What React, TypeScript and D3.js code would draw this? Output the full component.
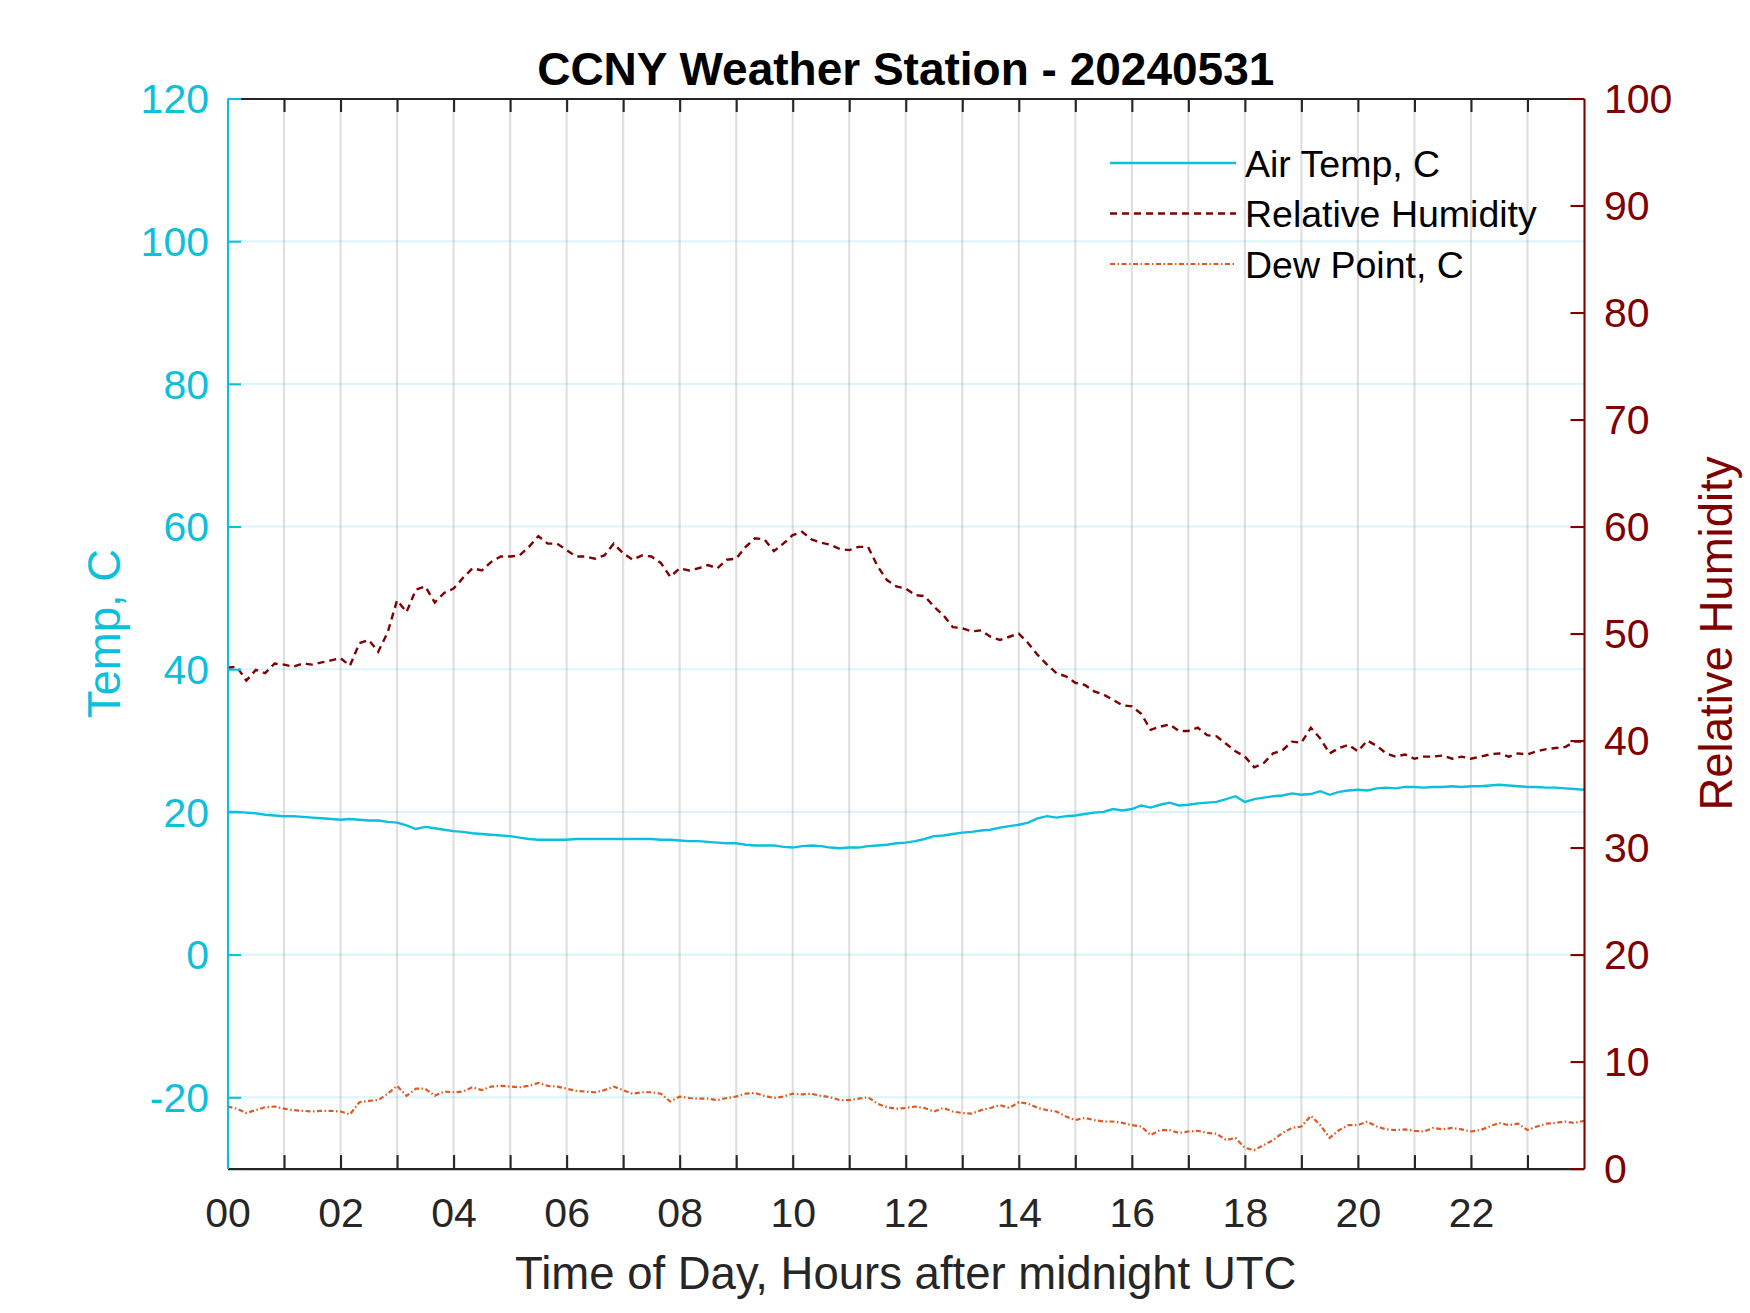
import React, { useRef, useEffect } from 'react';
import * as d3 from 'd3';

// 10-minute samples from 00:00 to 24:00 UTC (145 values each)
const airTemp = [
  20.0, 20.0, 19.9, 19.8, 19.6, 19.5, 19.4, 19.4, 19.3, 19.2, 19.1, 19.0,
  18.9, 19.0, 18.9, 18.8, 18.8, 18.6, 18.5, 18.1, 17.6, 17.9, 17.7, 17.5,
  17.3, 17.2, 17.0, 16.9, 16.8, 16.7, 16.6, 16.4, 16.2, 16.1, 16.1, 16.1,
  16.1, 16.2, 16.2, 16.2, 16.2, 16.2, 16.2, 16.2, 16.2, 16.2, 16.1, 16.1,
  16.0, 15.9, 15.9, 15.8, 15.7, 15.6, 15.6, 15.4, 15.3, 15.3, 15.3, 15.1,
  15.0, 15.2, 15.3, 15.2, 15.0, 14.9, 15.0, 15.0, 15.2, 15.3, 15.4, 15.6,
  15.7, 15.9, 16.2, 16.6, 16.7, 16.9, 17.1, 17.2, 17.4, 17.5, 17.8, 18.0,
  18.2, 18.5, 19.1, 19.4, 19.2, 19.4, 19.5, 19.7, 19.9, 20.0, 20.4, 20.2,
  20.4, 20.9, 20.6, 21.0, 21.3, 20.9, 21.0, 21.2, 21.3, 21.4, 21.8, 22.2,
  21.4, 21.8, 22.0, 22.2, 22.3, 22.6, 22.4, 22.5, 22.9, 22.4, 22.8, 23.0,
  23.1, 23.0, 23.3, 23.4, 23.3, 23.5, 23.5, 23.4, 23.5, 23.5, 23.6, 23.5,
  23.6, 23.6, 23.7, 23.8, 23.7, 23.6, 23.5, 23.5, 23.4, 23.4, 23.3, 23.2,
  23.1,
];

const relHumidity = [
  46.8, 46.9, 45.6, 46.6, 46.3, 47.2, 47.1, 46.9, 47.2, 47.1, 47.3, 47.5,
  47.7, 47.0, 49.1, 49.4, 48.3, 50.1, 53.1, 52.0, 54.1, 54.4, 52.9, 53.8,
  54.2, 55.2, 56.1, 55.9, 56.7, 57.2, 57.2, 57.3, 58.1, 59.1, 58.4, 58.4,
  57.8, 57.2, 57.2, 57.0, 57.3, 58.4, 57.5, 56.9, 57.3, 57.2, 56.6, 55.3,
  56.1, 55.9, 56.1, 56.4, 56.1, 56.9, 57.0, 58.1, 58.9, 58.8, 57.7, 58.4,
  59.2, 59.5, 58.8, 58.5, 58.3, 57.9, 57.8, 58.1, 58.1, 56.3, 55.0, 54.4,
  54.2, 53.6, 53.5, 52.5, 51.7, 50.6, 50.5, 50.2, 50.3, 49.7, 49.4, 49.7,
  50.0, 49.1, 48.0, 47.1, 46.3, 46.0, 45.4, 45.2, 44.6, 44.3, 43.8, 43.3,
  43.2, 42.5, 41.0, 41.3, 41.5, 40.9, 40.9, 41.2, 40.5, 40.4, 39.7, 39.0,
  38.5, 37.5, 37.9, 38.8, 39.1, 39.9, 39.8, 41.2, 40.2, 38.8, 39.3, 39.6,
  39.0, 40.0, 39.5, 38.8, 38.5, 38.7, 38.3, 38.5, 38.5, 38.6, 38.3, 38.5,
  38.3, 38.5, 38.7, 38.8, 38.5, 38.8, 38.7, 39.0, 39.2, 39.3, 39.4, 39.9,
  39.9,
];

const dewPoint = [
  -21.3, -21.6, -22.2, -21.8, -21.4, -21.3, -21.6, -21.8, -21.9, -22.0, -21.9, -21.9,
  -22.0, -22.4, -20.7, -20.5, -20.4, -19.5, -18.4, -19.8, -18.8, -18.8, -19.8, -19.2,
  -19.3, -19.2, -18.6, -19.0, -18.5, -18.4, -18.5, -18.6, -18.4, -18.0, -18.4, -18.5,
  -18.8, -19.1, -19.2, -19.3, -19.0, -18.5, -19.0, -19.5, -19.3, -19.3, -19.5, -20.6,
  -19.9, -20.1, -20.2, -20.2, -20.4, -20.1, -19.9, -19.5, -19.4, -19.8, -20.1, -19.9,
  -19.5, -19.6, -19.5, -19.8, -20.0, -20.4, -20.4, -20.2, -20.0, -20.9, -21.4, -21.6,
  -21.5, -21.3, -21.5, -22.0, -21.5, -22.0, -22.2, -22.3, -21.8, -21.5, -21.1, -21.5,
  -20.7, -20.9, -21.5, -21.8, -22.0, -22.7, -23.2, -22.9, -23.2, -23.4, -23.4, -23.6,
  -23.9, -24.1, -25.3, -24.6, -24.6, -25.0, -24.8, -24.7, -25.0, -25.1, -26.0, -25.7,
  -27.1, -27.4, -26.7, -26.0, -25.0, -24.3, -24.1, -22.6, -23.9, -25.7, -24.6, -23.9,
  -23.9, -23.4, -24.1, -24.5, -24.6, -24.5, -24.7, -24.8, -24.3, -24.5, -24.3, -24.5,
  -24.8, -24.6, -24.1, -23.6, -23.9, -23.7, -24.6, -24.1, -23.7, -23.6, -23.4, -23.6,
  -23.3,
];

const hourTicks = [
  1, 2, 3, 4, 5, 6, 7, 8, 9, 10, 11, 12, 13, 14, 15, 16, 17, 18, 19, 20, 21, 22, 23,
];
const hourLabels = ['00', '02', '04', '06', '08', '10', '12', '14', '16', '18', '20', '22'];
const tempTicks = [-20, 0, 20, 40, 60, 80, 100, 120];
const rhTicks = [0, 10, 20, 30, 40, 50, 60, 70, 80, 90, 100];

const legendItems = ['Air Temp, C', 'Relative Humidity', 'Dew Point, C'];

const CYAN = '#0DBFDC';
const DARK_RED = '#800000';
const ORANGE = '#DF5A22';
const INK = '#262626';
const FONT = '"Liberation Sans", Arial, Helvetica, sans-serif';

const WeatherChart: React.FC = () => {
  const ref = useRef<SVGSVGElement | null>(null);

  useEffect(() => {
    const width = 1750;
    const height = 1313;
    const left = 227.5, right = 1584, top = 98.5, bottom = 1168.6;
    const tick = 13.5;

    const svg = d3.select(ref.current);
    svg.selectAll('*').remove();
    svg.attr('width', width).attr('height', height);

    svg.append('rect').attr('width', width).attr('height', height).attr('fill', 'white');

    const x = d3.scaleLinear().domain([0, 24]).range([left, right]);
    const yT = d3.scaleLinear().domain([-30, 120]).range([bottom, top]);
    const yRH = d3.scaleLinear().domain([0, 100]).range([bottom, top]);

    const hours = airTemp.map((_, i) => i / 6);

    // grid: grey verticals every hour, faint cyan horizontals on the temp ticks
    const grid = svg.append('g');
    grid.append('g').selectAll('line')
      .data(hourTicks)
      .join('line')
      .attr('x1', (d) => x(d)).attr('x2', (d) => x(d))
      .attr('y1', top).attr('y2', bottom)
      .attr('stroke', INK).attr('stroke-opacity', 0.15).attr('stroke-width', 2.1);
    grid.append('g').selectAll('line')
      .data(tempTicks.filter((t) => t < 120))
      .join('line')
      .attr('x1', left).attr('x2', right)
      .attr('y1', (d) => yT(d)).attr('y2', (d) => yT(d))
      .attr('stroke', CYAN).attr('stroke-opacity', 0.15).attr('stroke-width', 2.1);

    // series
    const lineT = d3.line<number>().x((_, i) => x(hours[i])).y((d) => yT(d));
    const lineRH = d3.line<number>().x((_, i) => x(hours[i])).y((d) => yRH(d));

    svg.append('path').attr('d', lineT(airTemp)!)
      .attr('fill', 'none').attr('stroke', CYAN).attr('stroke-width', 2.4);
    svg.append('path').attr('d', lineRH(relHumidity)!)
      .attr('fill', 'none').attr('stroke', DARK_RED).attr('stroke-width', 2.4)
      .attr('stroke-dasharray', '7,5');
    svg.append('path').attr('d', lineT(dewPoint)!)
      .attr('fill', 'none').attr('stroke', ORANGE).attr('stroke-width', 2.2)
      .attr('stroke-dasharray', '5,2.5,1.5,2.5');

    // axes
    const labelFmt = (d: d3.NumberValue) => {
      const v = +d;
      return v % 2 === 0 ? hourLabels[v / 2] ?? '' : '';
    };
    const plainFmt = (d: d3.NumberValue) => String(d); // hyphen minus like MATLAB
    const styleAxis = (g: d3.Selection<SVGGElement, unknown, null, undefined>, color: string) => {
      g.attr('font-family', FONT).attr('font-size', 41);
      g.selectAll('path.domain').attr('stroke', color).attr('stroke-width', 2.1);
      g.selectAll('.tick line').attr('stroke', color).attr('stroke-width', 2.1);
      g.selectAll('.tick text').attr('fill', color);
    };

    const gx = svg.append('g').attr('transform', `translate(0,${bottom})`)
      .call(d3.axisBottom(x).tickValues([0, ...hourTicks]).tickFormat(labelFmt)
        .tickSizeInner(-tick).tickSizeOuter(0).tickPadding(29.5));
    styleAxis(gx, INK);

    const gxTop = svg.append('g').attr('transform', `translate(0,${top})`)
      .call(d3.axisTop(x).tickValues(hourTicks).tickFormat(() => '')
        .tickSizeInner(-tick).tickSizeOuter(0));
    styleAxis(gxTop, INK);

    const gyL = svg.append('g').attr('transform', `translate(${left},0)`)
      .call(d3.axisLeft(yT).tickValues(tempTicks).tickFormat(plainFmt)
        .tickSizeInner(-tick).tickSizeOuter(0).tickPadding(18.5));
    styleAxis(gyL, CYAN);
    gyL.selectAll('.tick text').attr('dy', '0.35em');

    const gyR = svg.append('g').attr('transform', `translate(${right},0)`)
      .call(d3.axisRight(yRH).tickValues(rhTicks).tickFormat(plainFmt)
        .tickSizeInner(-tick).tickSizeOuter(0).tickPadding(20));
    styleAxis(gyR, DARK_RED);
    gyR.selectAll('.tick text').attr('dy', '0.35em');

    // labels
    svg.append('text')
      .attr('x', (left + right) / 2).attr('y', 85)
      .attr('text-anchor', 'middle')
      .attr('font-family', FONT).attr('font-size', 46).attr('font-weight', 'bold')
      .attr('fill', '#000')
      .text('CCNY Weather Station - 20240531');

    svg.append('text')
      .attr('x', (left + right) / 2).attr('y', 1289)
      .attr('text-anchor', 'middle')
      .attr('font-family', FONT).attr('font-size', 45.5)
      .attr('fill', INK)
      .text('Time of Day, Hours after midnight UTC');

    const midY = (top + bottom) / 2;
    svg.append('text')
      .attr('transform', `translate(120,${midY}) rotate(-90)`)
      .attr('text-anchor', 'middle')
      .attr('font-family', FONT).attr('font-size', 45.5)
      .attr('fill', CYAN)
      .text('Temp, C');

    svg.append('text')
      .attr('transform', `translate(1732,${midY}) rotate(-90)`)
      .attr('text-anchor', 'middle')
      .attr('font-family', FONT).attr('font-size', 45.5)
      .attr('fill', DARK_RED)
      .text('Relative Humidity');

    // legend (no box)
    const legendStyles = [
      { color: CYAN, dash: null as string | null, w: 2.4 },
      { color: DARK_RED, dash: '7,5', w: 2.4 },
      { color: ORANGE, dash: '5,2.5,1.5,2.5', w: 2.2 },
    ];
    const legend = svg.append('g');
    legendItems.forEach((name, i) => {
      const cy = 163 + i * 50.5;
      const st = legendStyles[i];
      const ln = legend.append('line')
        .attr('x1', 1110).attr('x2', 1236)
        .attr('y1', cy).attr('y2', cy)
        .attr('stroke', st.color).attr('stroke-width', st.w);
      if (st.dash) ln.attr('stroke-dasharray', st.dash);
      legend.append('text')
        .attr('x', 1245).attr('y', cy + 13.5)
        .attr('font-family', FONT).attr('font-size', 37.5)
        .attr('fill', '#000')
        .text(name);
    });
  }, []);

  return <svg ref={ref} style={{ position: 'absolute', left: 0, top: 0 }} />;
};

export default function App() {
  return <WeatherChart />;
}
